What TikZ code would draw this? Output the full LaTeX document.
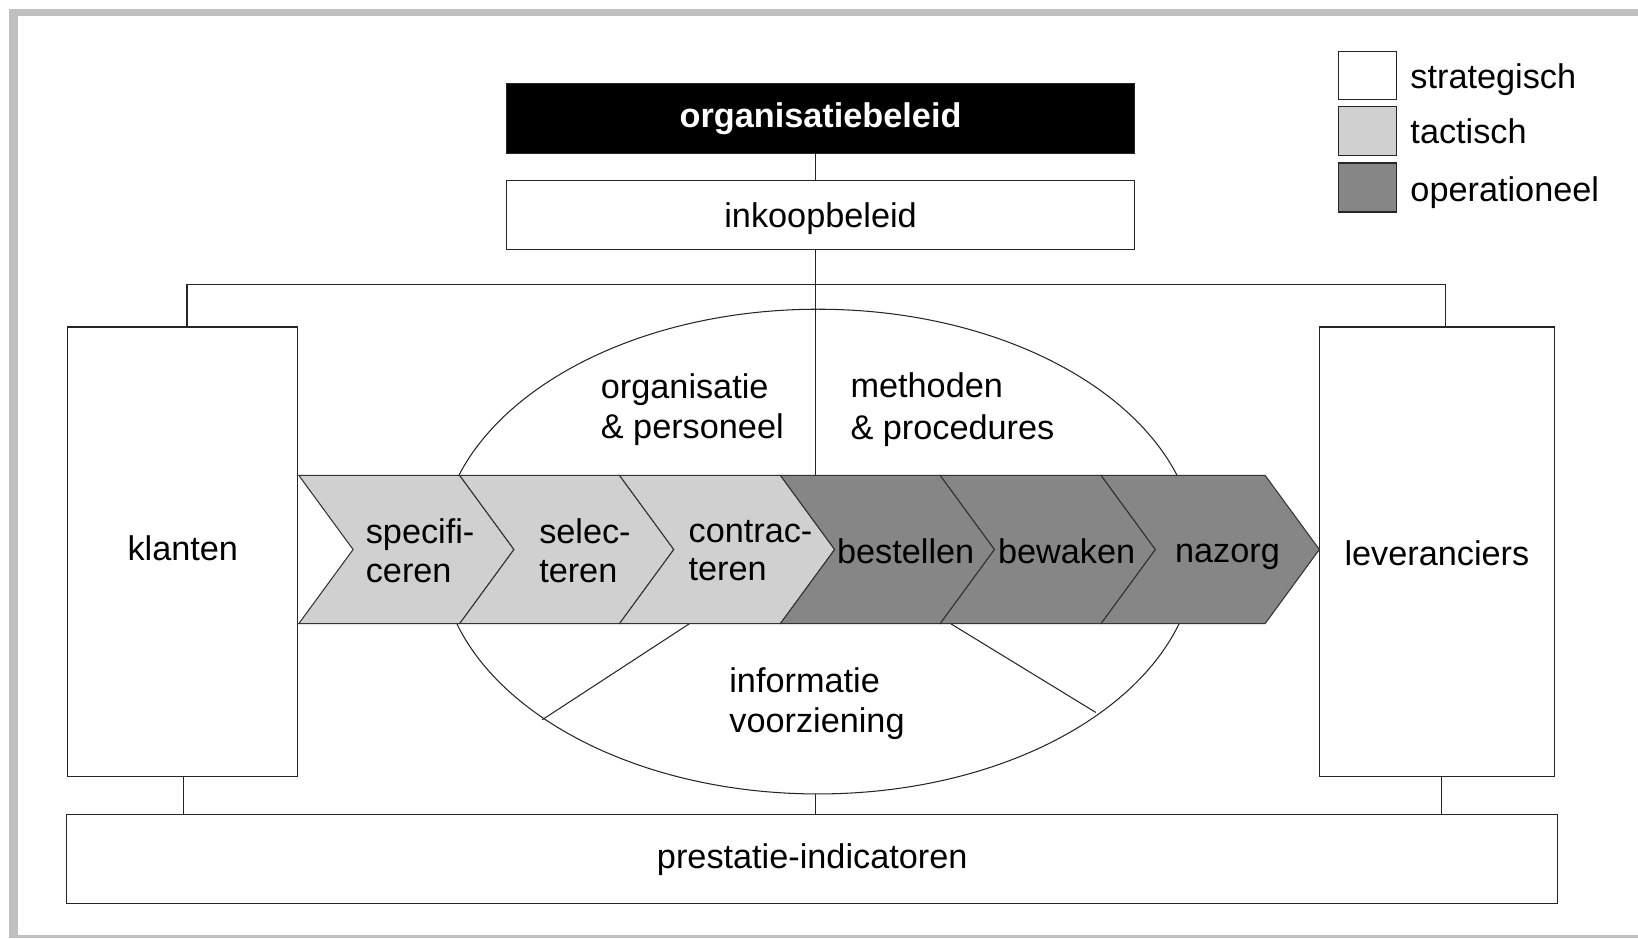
\documentclass[tikz,border=0pt]{standalone}
\usepackage{fontspec}
\setmainfont{Liberation Sans}
\usetikzlibrary{shapes.geometric}
\definecolor{tact}{HTML}{D0D0D0}
\definecolor{oper}{HTML}{868686}
\definecolor{framegray}{HTML}{C0C0C0}
\begin{document}
\begin{tikzpicture}[x=1pt,y=-1pt,
  font=\fontsize{32.8}{37}\selectfont,
  box/.style={draw=black!85, line width=1.1pt, fill=white, inner sep=0},
  ln/.style={draw=black!85, line width=1pt},
  chv/.style={draw=black!80, line width=1pt},
  lbl/.style={inner sep=0, align=left, anchor=west},
  txt/.style={inner sep=0}]
\useasboundingbox (0,0) rectangle (1568,898);
\fill[white] (0,0) rectangle (1568,898);
% frame
\fill[framegray] (8.6,8.6) rectangle (17.5,898);
\fill[framegray] (8.6,8.6) rectangle (1568,15.5);
\fill[framegray] (8.6,895.5) rectangle (1568,898);

% top boxes
\node[box, fill=black, text=white, minimum width=601, minimum height=67,
      font=\fontsize{32.8}{37}\selectfont\bfseries] (org) at (785.5,113.5) {organisatiebeleid};
\node[box, minimum width=601, minimum height=66, text height=24pt, text depth=0pt] (ink) at (785.5,206) {inkoopbeleid};

% side and bottom boxes
\node[box, minimum width=220, minimum height=430, text height=23pt, text depth=6pt] (kl) at (175,528) {klanten};
\node[box, minimum width=225, minimum height=430, text height=27pt, text depth=0pt] (lev) at (1375.5,528) {leveranciers};
\node[box, minimum width=1427, minimum height=85] (pr) at (777.5,822.5) {prestatie-indicatoren};

% ellipse
\node[ellipse, draw=black!85, line width=1pt, fill=white, minimum width=724, minimum height=464, inner sep=0] (ell) at (783,528) {};

% connectors
\coordinate (sp) at (781,455);
\draw[ln] (org.south -| sp) -- (ink.north -| sp);
\draw[ln] (ink.south -| sp) -- (sp);
\coordinate (hl) at (179,272);
\coordinate (hr) at (1384,272);
\draw[ln] (kl.north -| hl) -- (hl) -- (hr) -- (lev.north -| hr);
\coordinate (bl) at (176,780);
\coordinate (br) at (1380,780);
\coordinate (bm) at (781,780);
\draw[ln] (kl.south -| bl) -- (bl);
\draw[ln] (lev.south -| br) -- (br);
\draw[ln] (ell.south -| bm) -- (bm);

% inner lines of lower ellipse
\coordinate (i1) at (660,597);
\coordinate (i2) at (519,689);
\coordinate (i3) at (910,597);
\coordinate (i4) at (1049,682);
\draw[ln] (i1) -- (i2);
\draw[ln] (i3) -- (i4);

% chevrons
\foreach \a/\b/\c in {286/440/tact, 440/593/tact, 593/747/tact, 747/900/oper, 900/1054/oper, 1054/1211/oper}
  \draw[chv, fill=\c] (\a,455) -- (\b,455) -- (\b+52,526) -- (\b,597) -- (\a,597) -- (\a+52,526) -- cycle;

% chevron labels
\node[lbl] (c1) at (350,527) {specifi-\\ceren};
\node[lbl] (c2) at (516,527) {selec-\\teren};
\node[lbl] (c3) at (659,527) {contrac-\\teren};
\node[txt] (c4) at (867,528) {bestellen};
\node[txt] (c5) at (1021,528) {bewaken};
\node[txt] (c6) at (1175,533) {nazorg};

% ellipse labels
\node[lbl, font=\fontsize{32.8}{38}\selectfont] (op) at (575,392) {organisatie\\\& personeel};
\node[lbl, font=\fontsize{32.8}{40}\selectfont] (mp) at (814,392) {methoden\\\& procedures};
\node[lbl, font=\fontsize{32.8}{39}\selectfont] (iv) at (698,673.5) {informatie\\voorziening};

% legend
\node[box, minimum width=56, minimum height=46] (ls) at (1309,72) {};
\node[box, fill=tact, minimum width=56, minimum height=47] (lt) at (1309,125.5) {};
\node[box, fill=oper, minimum width=56, minimum height=47] (lo) at (1309,179.5) {};
\node[lbl] (lst) at (1350,76) {strategisch};
\node[lbl] (ltt) at (1350,126) {tactisch};
\node[lbl] (lot) at (1350,184) {operationeel};
\end{tikzpicture}
\end{document}
